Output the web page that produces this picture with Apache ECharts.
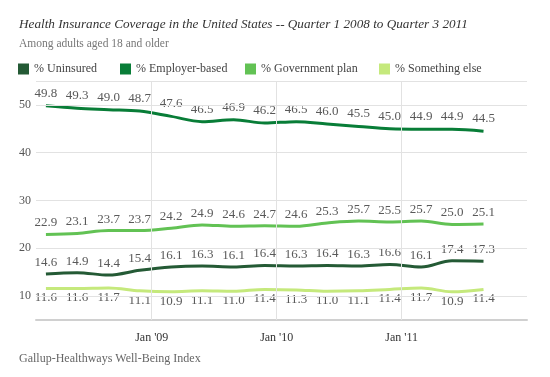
<!DOCTYPE html>
<html>
<head>
    <meta charset="utf-8"/>
    <title>Health Insurance Coverage</title>
    <script src="https://cdn.jsdelivr.net/npm/echarts@6/dist/echarts.min.js"></script>
    <style>
        html, body { margin: 0; padding: 0; background: #fff; }
        #chart { width: 550px; height: 377px; }
    </style>
</head>
<body>
<div id="chart"></div>
<script>
    // quarterly survey dates, Q1 2008 .. Q3 2011
    var dates = ['2008-02-27', '2008-05-28', '2008-08-28', '2008-11-27',
        '2009-02-27', '2009-05-28', '2009-08-28', '2009-11-27',
        '2010-02-27', '2010-05-28', '2010-08-28', '2010-11-27',
        '2011-02-27', '2011-05-28', '2011-08-28'];
    var uninsured = [14.6, 14.9, 14.4, 15.4, 16.1, 16.3, 16.1, 16.4, 16.3, 16.4, 16.3, 16.6, 16.1, 17.4, 17.3];
    var employer = [49.8, 49.3, 49.0, 48.7, 47.6, 46.5, 46.9, 46.2, 46.5, 46.0, 45.5, 45.0, 44.9, 44.9, 44.5];
    var government = [22.9, 23.1, 23.7, 23.7, 24.2, 24.9, 24.6, 24.7, 24.6, 25.3, 25.7, 25.5, 25.7, 25.0, 25.1];
    var somethingElse = [11.6, 11.6, 11.7, 11.1, 10.9, 11.1, 11.0, 11.4, 11.3, 11.0, 11.1, 11.4, 11.7, 10.9, 11.4];
    var seriesNames = ['% Uninsured', '% Employer-based', '% Government plan', '% Something else'];
    var yTicks = [10, 20, 30, 40, 50];
    var xTicks = ['2009-01-01', '2010-01-01', '2011-01-01'];
    var xTickLabels = ["Jan '09", "Jan '10", "Jan '11"];

    var colors = ['#245a35', '#087d37', '#62c254', '#c5e97c'];
    var serif = '"Liberation Serif", "DejaVu Serif", serif';

    function ts(d) { return +new Date(d + 'T00:00:00Z'); }

    function pairs(vals) {
        return vals.map(function (v, i) { return [ts(dates[i]), v]; });
    }

    var xTickTimes = xTicks.map(ts);

    function mkSeries(name, vals, color, pos, dist) {
        return {
            name: name,
            type: 'line',
            smooth: 0.35,
            symbol: 'circle',
            symbolSize: 0,
            showSymbol: true,
            data: pairs(vals),
            lineStyle: { color: color, width: 3 },
            itemStyle: { color: color },
            label: {
                show: true,
                position: pos,
                distance: dist,
                color: '#595959',
                fontFamily: serif,
                fontSize: 13,
                formatter: function (p) { return p.value[1].toFixed(1); }
            },
            z: 3
        };
    }

    var series = [
        mkSeries(seriesNames[0], uninsured, colors[0], 'top', 5),
        mkSeries(seriesNames[1], employer, colors[1], 'top', 6),
        mkSeries(seriesNames[2], government, colors[2], 'top', 5),
        mkSeries(seriesNames[3], somethingElse, colors[3], 'bottom', 3)
    ];

    // grid lines drawn as mark lines
    var gridData = yTicks.concat([55]).map(function (v) { return { yAxis: v }; })
        .concat(xTickTimes.map(function (t) { return { xAxis: t }; }));
    series.push({
        type: 'line',
        data: [],
        silent: true,
        markLine: {
            silent: true,
            symbol: 'none',
            label: { show: false },
            lineStyle: { color: '#e2e2e2', width: 1, type: 'solid' },
            data: gridData
        },
        z: 1
    });

    // one legend per item so each sits where the original has it
    var legendLeft = [13, 115, 240, 374];
    var legends = seriesNames.map(function (n, i) {
        return {
            data: [n],
            left: legendLeft[i],
            top: 58,
            icon: 'rect',
            itemWidth: 11,
            itemHeight: 11,
            textStyle: { fontFamily: serif, fontSize: 12, color: '#444' }
        };
    });

    var chart = echarts.init(document.getElementById('chart'));
    chart.setOption({
        animation: false,
        color: colors,
        title: [{
            text: 'Health Insurance Coverage in the United States -- Quarter 1 2008 to Quarter 3 2011',
            left: 14,
            top: 13,
            textStyle: { fontFamily: serif, fontStyle: 'italic', fontWeight: 'normal', fontSize: 13.2, color: '#333' }
        }, {
            text: 'Among adults aged 18 and older',
            left: 14,
            top: 33,
            textStyle: { fontFamily: serif, fontWeight: 'normal', fontSize: 11.5, color: '#777' }
        }, {
            text: 'Gallup-Healthways Well-Being Index',
            left: 14,
            top: 348,
            textStyle: { fontFamily: serif, fontWeight: 'normal', fontSize: 12, color: '#666' }
        }],
        legend: legends,
        grid: { left: 36, right: 23, top: 81, bottom: 57 },
        xAxis: {
            type: 'value',
            min: ts('2008-01-29'),
            max: ts('2012-01-02'),
            axisLine: { show: true, lineStyle: { color: '#d0d0d0', width: 2 } },
            axisTick: { show: false },
            splitLine: { show: false },
            axisLabel: {
                customValues: xTickTimes,
                margin: 12,
                color: '#333',
                fontFamily: serif,
                fontSize: 12,
                formatter: function (v) {
                    var i = xTickTimes.indexOf(+v);
                    return i >= 0 ? xTickLabels[i] : '';
                }
            }
        },
        yAxis: {
            type: 'value',
            min: 5,
            max: 55,
            axisLine: { show: false },
            axisTick: { show: false },
            splitLine: { show: false },
            axisLabel: {
                customValues: yTicks,
                margin: 5,
                color: '#555',
                fontFamily: serif,
                fontSize: 12
            }
        },
        series: series
    });
</script>
</body>
</html>
